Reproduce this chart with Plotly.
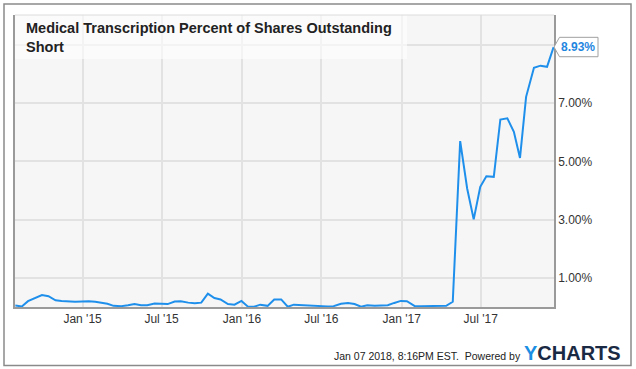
import plotly.graph_objects as go

dates = [
    "2014-07-31", "2014-08-15", "2014-08-29", "2014-09-15", "2014-09-30", "2014-10-15",
    "2014-10-31", "2014-11-14", "2014-11-28", "2014-12-15", "2014-12-31",
    "2015-01-15", "2015-01-30", "2015-02-13", "2015-02-27", "2015-03-13", "2015-03-31",
    "2015-04-15", "2015-04-30", "2015-05-15", "2015-05-29", "2015-06-15", "2015-06-30",
    "2015-07-15", "2015-07-31", "2015-08-14", "2015-08-31", "2015-09-15", "2015-09-30",
    "2015-10-15", "2015-10-30", "2015-11-13", "2015-11-30", "2015-12-15", "2015-12-31",
    "2016-01-15", "2016-01-29", "2016-02-12", "2016-02-29", "2016-03-15", "2016-03-31",
    "2016-04-15", "2016-04-29", "2016-05-13", "2016-05-31", "2016-06-15", "2016-06-30",
    "2016-07-15", "2016-07-29", "2016-08-15", "2016-08-31", "2016-09-15", "2016-09-30",
    "2016-10-14", "2016-10-31", "2016-11-15", "2016-11-30", "2016-12-15", "2016-12-30",
    "2017-01-13", "2017-01-31", "2017-02-15", "2017-02-28", "2017-03-15", "2017-03-31",
    "2017-04-13", "2017-04-28", "2017-05-15", "2017-05-31", "2017-06-15", "2017-06-30",
    "2017-07-14", "2017-07-31", "2017-08-15", "2017-08-31", "2017-09-15", "2017-09-29",
    "2017-10-13", "2017-10-31", "2017-11-15", "2017-11-30", "2017-12-15",
]

short_pct = [
    0.05, 0.02, 0.20, 0.31, 0.41, 0.37,
    0.23, 0.21, 0.19, 0.18, 0.19,
    0.20, 0.18, 0.14, 0.11, 0.04, 0.03,
    0.06, 0.10, 0.06, 0.06, 0.12, 0.11,
    0.10, 0.19, 0.20, 0.15, 0.13, 0.15,
    0.46, 0.31, 0.26, 0.10, 0.08, 0.21,
    0.01, 0.01, 0.08, 0.04, 0.26, 0.26,
    0.01, 0.08, 0.07, 0.05, 0.04, 0.02,
    0.02, 0.03, 0.11, 0.14, 0.10, 0.01,
    0.06, 0.04, 0.04, 0.06, 0.14, 0.21,
    0.20, 0.03, 0.03, 0.03, 0.03, 0.03,
    0.04, 0.18, 5.70, 4.07, 3.01, 4.13,
    4.49, 4.47, 6.44, 6.48, 6.02, 5.12,
    7.22, 8.22, 8.29, 8.25, 8.93,
]

x_tick_vals = ["2015-01-01", "2015-07-01", "2016-01-01", "2016-07-01", "2017-01-01", "2017-07-01"]
x_tick_text = ["Jan '15", "Jul '15", "Jan '16", "Jul '16", "Jan '17", "Jul '17"]
y_tick_vals = [1, 3, 5, 7, 9]
y_tick_text = ["1.00%", "3.00%", "5.00%", "7.00%", ""]

title_text = "Medical Transcription Percent of Shares Outstanding<br>Short"
last_label = "8.93%"
footer_text = "Jan 07 2018, 8:16PM EST.  Powered by"

FONT = "Liberation Sans, Arial, sans-serif"
LINE_COLOR = "#1f8fec"

W, H = 636, 369
L, R, T, B = 15, 82, 15, 62
PW = W - L - R
PH = H - T - B
Y_MAX = 10.03


def px(x):
    return (x - L) / PW


def py(y):
    return (H - B - y) / PH


# callout geometry (pixel offsets from the last point)
tip_x = 554
tip_y = (H - B) - short_pct[-1] / Y_MAX * PH
callout_path = "M {},{} L {},{} L {},{} L {},{} L {},{} Z".format(
    px(tip_x), py(tip_y),
    px(tip_x + 5.5), py(tip_y - 9.7),
    px(tip_x + 44), py(tip_y - 9.7),
    px(tip_x + 44), py(tip_y + 9.7),
    px(tip_x + 5.5), py(tip_y + 9.7),
)

fig = go.Figure()
fig.add_trace(go.Scatter(
    x=dates, y=short_pct, mode="lines",
    line=dict(color=LINE_COLOR, width=2),
    hoverinfo="skip", showlegend=False,
))

shapes = [
    # outer frame
    dict(type="rect", xref="paper", yref="paper",
         x0=px(4), x1=px(631), y0=py(365.5), y1=py(4),
         line=dict(color="#8a8a8a", width=1.5), fillcolor="rgba(0,0,0,0)", layer="above"),
    # title backdrop
    dict(type="rect", xref="paper", yref="paper",
         x0=0, x1=px(407), y0=py(59), y1=1,
         line=dict(width=0), fillcolor="rgba(255,255,255,0.6)", layer="above"),
    # top border of plot (light)
    dict(type="line", xref="paper", yref="paper", x0=0, x1=1, y0=1, y1=1,
         line=dict(color="#dcdcdc", width=1), layer="above"),
    # callout box for last value
    dict(type="path", xref="paper", yref="paper", path=callout_path,
         fillcolor="white", line=dict(color="#a0a0a0", width=1), layer="above"),
]

annotations = [
    dict(text=title_text, xref="paper", yref="paper", x=px(24), y=py(18),
         xanchor="left", yanchor="top", align="left", showarrow=False,
         font=dict(family=FONT, size=14.5, color="#222222", weight="bold")),
    dict(text=last_label, xref="x", yref="y", x=dates[-1], y=short_pct[-1],
         xshift=24, xanchor="center", yanchor="middle", showarrow=False,
         font=dict(family=FONT, size=12, color="#1f86e0", weight="bold")),
    dict(text=footer_text, xref="paper", yref="paper", x=px(523), y=py(355.5),
         xanchor="right", yanchor="middle", showarrow=False,
         font=dict(family=FONT, size=10.5, color="#222222")),
    dict(text="<span style='color:#1a8fe3'>Y</span>CHARTS", xref="paper", yref="paper",
         x=px(522), y=py(353), xanchor="left", yanchor="middle", showarrow=False,
         font=dict(family=FONT, size=20, color="#1b2a44", weight="bold")),
]

fig.update_layout(
    width=W, height=H,
    margin=dict(l=L, r=R, t=T, b=B),
    paper_bgcolor="white",
    plot_bgcolor="#f6f6f6",
    showlegend=False,
    font=dict(family=FONT, size=12, color="#333333"),
    shapes=shapes,
    annotations=annotations,
    xaxis=dict(
        type="date",
        range=["2014-07-30 06:00", "2017-12-15 22:00"],
        tickvals=x_tick_vals, ticktext=x_tick_text,
        showgrid=True, gridcolor="#e2e2e2", gridwidth=1.5,
        showline=True, linecolor="#9a9a9a", linewidth=1.5,
        ticks="", zeroline=False, fixedrange=True,
        tickfont=dict(family=FONT, size=12, color="#333333"),
    ),
    yaxis=dict(
        side="right",
        range=[0, Y_MAX],
        tickvals=y_tick_vals, ticktext=y_tick_text,
        showgrid=True, gridcolor="#e2e2e2", gridwidth=1.5,
        showline=True, mirror=True, linecolor="#9a9a9a", linewidth=1.5,
        ticks="", zeroline=False, fixedrange=True,
        tickfont=dict(family=FONT, size=12, color="#333333"),
    ),
)

fig.write_html(
    "out.html",
    config={"displayModeBar": False},
    post_script="document.body.style.margin='0';document.body.style.overflow='hidden';",
)
